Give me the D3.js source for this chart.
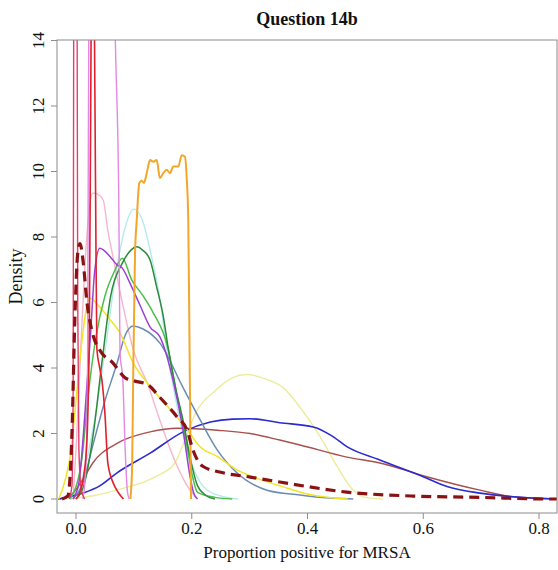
<!DOCTYPE html>
<html>
<head>
<meta charset="utf-8">
<script src="https://cdn.jsdelivr.net/npm/d3@7"></script>
<style>
  html, body { margin: 0; padding: 0; background: #fff; }
  text { font-family: "Liberation Serif", "Times New Roman", serif; fill: #111; }
</style>
</head>
<body>
<svg id="chart" width="558" height="570"></svg>
<script>
// ---------------- data ----------------
const title = "Question 14b";
const xLabel = "Proportion positive for MRSA";
const yLabel = "Density";
const xTicks = [0, 0.2, 0.4, 0.6, 0.8];
const yTicks = [0, 2, 4, 6, 8, 10, 12, 14];

const paleYellow = [[-0.01,0],[0.03,0.1],[0.076,0.3],[0.136,0.67],[0.171,1.1],[0.19,1.9],[0.206,2.6],[0.24,3.3],[0.27,3.7],[0.295,3.8],[0.33,3.65],[0.358,3.4],[0.387,2.8],[0.422,1.9],[0.451,1.0],[0.479,0.27],[0.5,0.05],[0.53,0]];
const paleCyan = [[-0.01,0],[0.01,0.6],[0.03,2.2],[0.05,4.5],[0.07,7.0],[0.085,8.3],[0.1,8.85],[0.115,8.5],[0.128,7.6],[0.145,6.1],[0.157,4.55],[0.175,2.8],[0.195,1.3],[0.215,0.5],[0.24,0.15],[0.28,0]];
const lightPink = [[-0.005,0],[0.0,1.5],[0.008,4.5],[0.015,7.0],[0.022,8.7],[0.029,9.34],[0.038,9.3],[0.047,9.13],[0.055,8.2],[0.065,7.3],[0.08,6.0],[0.1,4.5],[0.124,3.5],[0.145,2.4],[0.17,1.2],[0.197,0.27],[0.21,0]];
const brown = [[-0.028,0],[-0.01,0.1],[0.012,0.6],[0.029,1.1],[0.071,1.7],[0.128,2.05],[0.175,2.16],[0.244,2.1],[0.301,2.0],[0.352,1.8],[0.387,1.65],[0.468,1.28],[0.525,1.1],[0.606,0.68],[0.698,0.27],[0.755,0.07],[0.831,0]];
const blue = [[-0.031,0],[0.012,0.18],[0.041,0.4],[0.071,0.8],[0.128,1.4],[0.185,2.05],[0.232,2.35],[0.271,2.44],[0.301,2.45],[0.352,2.33],[0.41,2.2],[0.44,1.95],[0.468,1.6],[0.525,1.19],[0.6,0.68],[0.641,0.38],[0.698,0.18],[0.755,0.07],[0.831,0]];
const steelBlue = [[-0.005,0],[0.01,0.4],[0.03,1.7],[0.05,3.0],[0.071,4.15],[0.085,5.0],[0.099,5.28],[0.115,5.2],[0.145,4.76],[0.185,3.4],[0.215,2.4],[0.244,1.5],[0.278,0.8],[0.33,0.27],[0.387,0.12],[0.42,0.05],[0.479,0]];
const yellow = [[-0.03,0],[-0.024,0.27],[-0.017,0.7],[-0.01,1.3],[0.0,3.0],[0.01,4.8],[0.024,6.14],[0.041,5.86],[0.06,5.45],[0.075,5.1],[0.099,4.15],[0.13,3.4],[0.168,2.63],[0.197,2.0],[0.214,1.6],[0.244,1.3],[0.278,0.89],[0.313,0.63],[0.358,0.37],[0.4,0.15],[0.44,0.04],[0.47,0]];
const lightGreen = [[-0.01,0],[0.01,1.2],[0.02,3.0],[0.035,5.0],[0.05,6.2],[0.065,6.9],[0.08,7.35],[0.096,6.7],[0.116,6.2],[0.133,5.7],[0.159,4.6],[0.175,3.1],[0.19,1.8],[0.2,0.8],[0.21,0.2],[0.24,0.05],[0.27,0]];
const darkGreen = [[0.0,0],[0.015,0.5],[0.03,2.0],[0.045,4.2],[0.06,6.2],[0.08,7.2],[0.095,7.6],[0.105,7.7],[0.115,7.6],[0.128,7.3],[0.139,6.5],[0.151,5.56],[0.159,4.64],[0.172,3.4],[0.185,2.4],[0.198,1.2],[0.21,0.4],[0.225,0.1],[0.24,0]];
const purple = [[-0.005,0],[0.005,0.5],[0.015,2.5],[0.025,5.0],[0.032,6.9],[0.041,7.66],[0.059,7.4],[0.071,7.15],[0.08,7.05],[0.093,6.6],[0.111,5.9],[0.128,5.25],[0.145,4.95],[0.168,3.6],[0.185,2.1],[0.197,0.7],[0.203,0.2],[0.21,0]];
const orange = [[0.094,0],[0.097,1],[0.099,4],[0.102,7.5],[0.1049,8.5],[0.1094,9.65],[0.1135,9.72],[0.1175,9.65],[0.1222,9.95],[0.1279,10.35],[0.1336,10.3],[0.1394,10.35],[0.1451,9.8],[0.1508,9.95],[0.1567,10.05],[0.1624,9.95],[0.1681,10.15],[0.1768,10.15],[0.1826,10.5],[0.1883,10.45],[0.1913,9.8],[0.194,8.5],[0.1965,4],[0.1987,0]];
const crimsonSpike = [[-0.012,0],[-0.007,0.4],[-0.005,3],[-0.004,14],[-0.001,30],[0.002,14],[0.003,6],[0.005,1.5],[0.009,0.3],[0.015,0]];
const redSpike = [[0.0,0],[0.01,0.4],[0.018,1.5],[0.023,5],[0.026,14],[0.029,25],[0.032,14],[0.034,9],[0.036,4.6],[0.041,4.0],[0.045,3.6],[0.05,2.6],[0.055,1.1],[0.064,0.5],[0.073,0.2],[0.082,0]];
const orchid = [[0.012,0],[0.017,1],[0.02,4],[0.022,14],[0.03,18],[0.05,19],[0.066,16],[0.068,14],[0.074,9],[0.076,4.5],[0.081,3.6],[0.085,1.5],[0.089,0.2],[0.092,0]];
const dashed = [[-0.024,0],[-0.014,0.1],[-0.007,2],[-0.002,5.5],[0.003,7.5],[0.007,7.8],[0.012,7.3],[0.019,6.0],[0.028,5.1],[0.041,4.55],[0.064,4.15],[0.085,3.7],[0.102,3.6],[0.123,3.5],[0.145,3.1],[0.175,2.5],[0.192,2.1],[0.202,1.5],[0.219,1.0],[0.254,0.8],[0.301,0.67],[0.352,0.52],[0.468,0.21],[0.582,0.09],[0.698,0.05],[0.814,0.0],[0.831,0]];

// ---------------- styles ----------------
const series = [
  { data: paleYellow, color: "#ecec9c", w: 1.4 },
  { data: paleCyan,   color: "#b4eaea", w: 1.4 },
  { data: lightPink,  color: "#f6b6cc", w: 1.4 },
  { data: brown,      color: "#a8504c", w: 1.4 },
  { data: blue,       color: "#2a2ad0", w: 1.6 },
  { data: steelBlue,  color: "#6a8cb2", w: 1.5 },
  { data: yellow,     color: "#f2e424", w: 1.5 },
  { data: lightGreen, color: "#4cbe4c", w: 1.5 },
  { data: darkGreen,  color: "#2c8a3a", w: 1.5 },
  { data: purple,     color: "#9a40d2", w: 1.5 },
  { data: orange,     color: "#f2a62a", w: 2.0 },
  { data: orchid,     color: "#e488e4", w: 1.4 },
  { data: crimsonSpike, color: "#e0406a", w: 1.4 },
  { data: redSpike,   color: "#e0202c", w: 1.6 },
  { data: dashed,     color: "#8b1212", w: 3.2, dash: "10,6" }
];

// ---------------- layout ----------------
const svg = d3.select("#chart");
const box = { left: 57, right: 557, top: 40, bottom: 513 };
const x = d3.scaleLinear().domain([0, 0.8]).range([76, 539]);
const y = d3.scaleLinear().domain([0, 14]).range([499, 40.5]);

svg.append("defs").append("clipPath").attr("id", "plotclip")
  .append("rect").attr("x", box.left).attr("y", box.top)
  .attr("width", box.right - box.left).attr("height", box.bottom - box.top);

const line = d3.line().x(d => x(d[0])).y(d => y(d[1])).curve(d3.curveMonotoneX);

const g = svg.append("g").attr("clip-path", "url(#plotclip)");
series.forEach(s => {
  g.append("path").attr("d", line(s.data))
    .attr("fill", "none").attr("stroke", s.color)
    .attr("stroke-width", s.w)
    .attr("stroke-linejoin", "round")
    .attr("stroke-dasharray", s.dash || null);
});

// frame
svg.append("rect").attr("x", box.left).attr("y", box.top)
  .attr("width", box.right - box.left).attr("height", box.bottom - box.top)
  .attr("fill", "none").attr("stroke", "#8c8c8c").attr("stroke-width", 1);

// x axis
const xAxis = svg.append("g");
xTicks.forEach(t => {
  xAxis.append("line").attr("x1", x(t)).attr("x2", x(t))
    .attr("y1", box.bottom).attr("y2", box.bottom + 6)
    .attr("stroke", "#8c8c8c");
  xAxis.append("text").attr("x", x(t)).attr("y", 534)
    .attr("text-anchor", "middle").attr("font-size", 17)
    .text(d3.format(".1f")(t));
});
// y axis
const yAxis = svg.append("g");
yTicks.forEach(t => {
  yAxis.append("line").attr("x1", box.left - 6).attr("x2", box.left)
    .attr("y1", y(t)).attr("y2", y(t)).attr("stroke", "#8c8c8c");
  yAxis.append("text")
    .attr("transform", `translate(44,${y(t)}) rotate(-90)`)
    .attr("text-anchor", "middle").attr("font-size", 17)
    .text(t);
});

svg.append("text").attr("x", (box.left + box.right) / 2).attr("y", 25)
  .attr("text-anchor", "middle").attr("font-size", 18).attr("font-weight", "bold")
  .text(title);
svg.append("text").attr("x", (box.left + box.right) / 2).attr("y", 558)
  .attr("text-anchor", "middle").attr("font-size", 17)
  .text(xLabel);
svg.append("text")
  .attr("transform", `translate(22,${(box.top + box.bottom) / 2}) rotate(-90)`)
  .attr("text-anchor", "middle").attr("font-size", 18)
  .text(yLabel);
</script>
</body>
</html>
